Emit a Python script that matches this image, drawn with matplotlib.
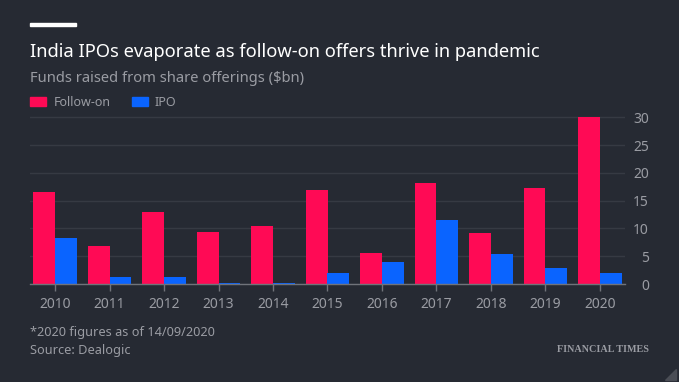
import matplotlib
matplotlib.use("Agg")
import matplotlib.pyplot as plt
import numpy as np
from matplotlib.patches import Rectangle, Polygon

years = ["2010", "2011", "2012", "2013", "2014", "2015", "2016", "2017", "2018", "2019", "2020"]
follow_on = [16.5, 6.9, 12.9, 9.3, 10.4, 16.9, 5.5, 18.1, 9.1, 17.3, 30.1]
ipo = [8.2, 1.3, 1.2, 0.25, 0.1, 2.0, 3.9, 11.6, 5.4, 2.9, 2.0]
yticks = [0, 5, 10, 15, 20, 25, 30]

BG = "#262a33"
FO_C = "#ff0a55"
IPO_C = "#0a64ff"
GRID = "#363a43"
TXT = "#9a9ca3"

plt.rcParams['font.family'] = ['Noto Sans', 'DejaVu Sans']

fig = plt.figure(figsize=(6.79, 3.82), dpi=100, facecolor=BG)
W, H = 679, 382

ax = fig.add_axes([30 / W, 1 - 284 / H, 595 / W, (284 - 111.8) / H])
ax.set_facecolor(BG)
x = np.arange(len(years))
w = 0.4
ax.bar(x - w / 2, follow_on, width=w, color=FO_C, zorder=3)
ax.bar(x + w / 2, ipo, width=w, color=IPO_C, zorder=3)
ax.set_xlim(-0.46, len(years) - 1 + 0.46)
ax.set_ylim(0, 31)
ax.set_yticks(yticks)
ax.set_yticklabels([str(v) for v in yticks], ha='right')
ax.yaxis.tick_right()
ax.set_xticks(x)
ax.set_xticklabels(years)
ax.grid(axis='y', color=GRID, linewidth=1, zorder=0)
for s in ['top', 'left', 'right']:
    ax.spines[s].set_visible(False)
ax.spines['bottom'].set_color('#70737a')
ax.spines['bottom'].set_linewidth(1)
ax.spines['bottom'].set_zorder(4)
ax.tick_params(axis='x', colors='#70737a', labelcolor=TXT, length=5, width=1, pad=4.5, labelsize=10)
ax.tick_params(axis='y', length=0, labelcolor=TXT, pad=17.3, labelsize=10)

# decorations
fig.patches.append(Rectangle((30 / W, 1 - 25.7 / H), 46 / W, 3 / H, transform=fig.transFigure,
                             color='white', figure=fig))
fig.text(30 / W, 1 - 57 / H, "India IPOs evaporate as follow-on offers thrive in pandemic",
         color='white', fontsize=13.2, va='baseline', ha='left')
fig.text(30 / W, 1 - 82.5 / H, "Funds raised from share offerings ($bn)",
         color=TXT, fontsize=10.6, va='baseline', ha='left')
fig.patches.append(Rectangle((30 / W, 1 - 105.5 / H), 15.5 / W, 8 / H, transform=fig.transFigure,
                             color=FO_C, figure=fig))
fig.text(53.5 / W, 1 - 106 / H, "Follow-on", color=TXT, fontsize=9, va='baseline', ha='left')
fig.patches.append(Rectangle((131.5 / W, 1 - 105.5 / H), 16 / W, 8 / H, transform=fig.transFigure,
                             color=IPO_C, figure=fig))
fig.text(155 / W, 1 - 106 / H, "IPO", color=TXT, fontsize=9, va='baseline', ha='left')

fig.text(30 / W, 1 - 336 / H, "*2020 figures as of 14/09/2020", color=TXT, fontsize=9.2,
         va='baseline', ha='left')
fig.text(30 / W, 1 - 354 / H, "Source: Dealogic", color=TXT, fontsize=9.2,
         va='baseline', ha='left')
fig.text(649 / W, 1 - 352 / H, "FINANCIAL TIMES", color=TXT, fontsize=7.3, fontweight='bold',
         family=['Liberation Serif', 'DejaVu Serif'], va='baseline', ha='right')
fig.patches.append(Polygon([(665 / W, 1 - 380 / H), (676 / W, 1 - 380 / H), (676 / W, 1 - 369 / H)],
                           closed=True, transform=fig.transFigure, color='#4a4d55', figure=fig))

fig.savefig("out.png", dpi=100, facecolor=BG)
